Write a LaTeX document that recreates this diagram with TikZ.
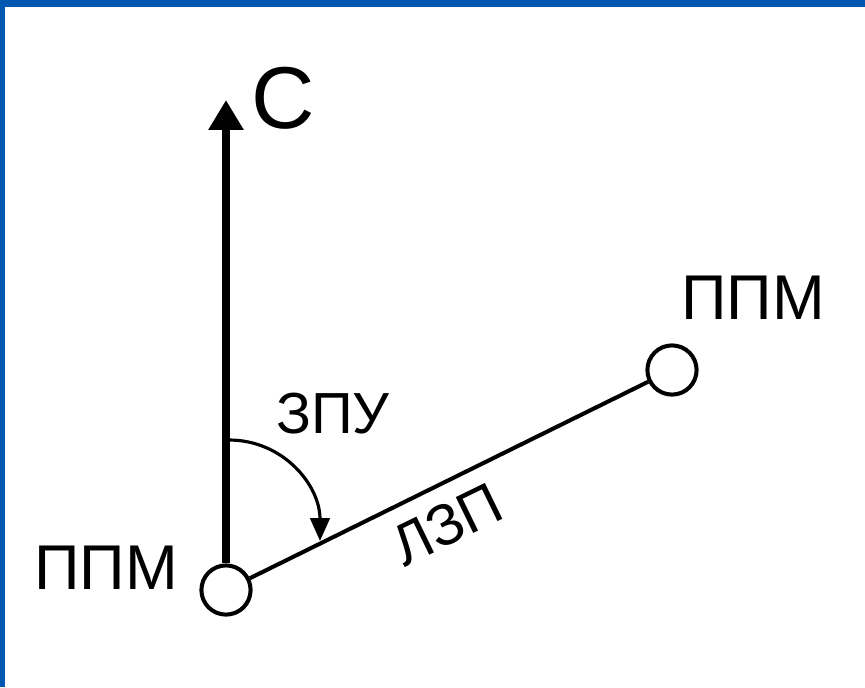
\documentclass[tikz,border=0pt]{standalone}
\usepackage{fontspec}
\setmainfont{Liberation Sans}
\usetikzlibrary{arrows.meta}
\definecolor{slideblue}{RGB}{0,87,176}

\begin{document}
\begin{tikzpicture}[x=0.02cm,y=-0.02cm,
  ppm/.style={circle,draw,line width=2.3pt,minimum size=28pt,inner sep=0pt},
  lbl/.style={inner sep=0pt,font=\fontsize{36}{40}\selectfont}]
\fill[slideblue] (0,0) rectangle (865,687);
\fill[white] (5,7) rectangle (865,687);
\useasboundingbox (0,0) rectangle (865,687);
\node[ppm] (p1) at (226,590) {};
\node[ppm] (p2) at (672,370) {};
\coordinate (north) at (226,100);
\coordinate (a1) at (229,440);
\coordinate (a2) at (320,541);
\draw[line width=5pt,-{Triangle[length=17pt,width=19pt]}] (p1.north) -- (north);
\draw[line width=2.3pt] (p1) -- (p2);
\draw[line width=1.8pt,-{Triangle[length=13pt,width=11pt]}] (a1) .. controls (283,440) and (320,485) .. (a2);
\node[lbl,font=\fontsize{50}{56}\selectfont] (c) at (283,98) {С};
\node[lbl] (ppm2) at (753,298) {ППМ};
\node[lbl] (ppm1) at (106,568) {ППМ};
\node[lbl,font=\fontsize{33}{38}\selectfont] (zpu) at (333,414) {ЗПУ};
\node[lbl,font=\fontsize{33}{38}\selectfont,rotate=26] (lzp) at (447,524) {ЛЗП};
\end{tikzpicture}
\end{document}
